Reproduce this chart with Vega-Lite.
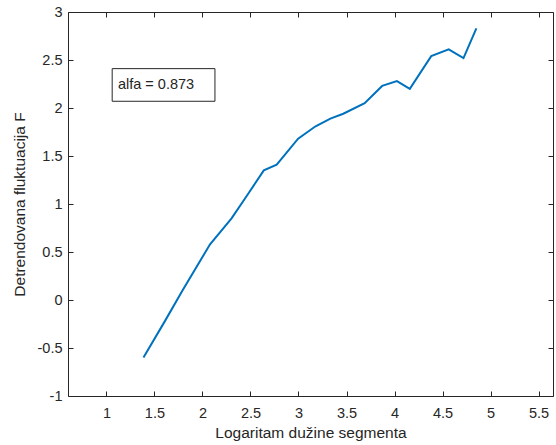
{
  "$schema": "https://vega.github.io/schema/vega-lite/v6.json",
  "autosize": "none",
  "width": 485,
  "height": 384,
  "padding": {"left": 68, "top": 12, "right": 3, "bottom": 49},
  "background": "white",
  "config": {
    "view": {"stroke": null},
    "font": "Liberation Sans",
    "axis": {
      "domainColor": "#262626",
      "tickColor": "#262626",
      "labelColor": "#262626",
      "titleColor": "#262626",
      "labelFont": "Liberation Sans",
      "titleFont": "Liberation Sans",
      "labelFontSize": 14.5,
      "titleFontSize": 15.5,
      "titleFontWeight": "normal",
      "grid": false,
      "tickSize": -5,
      "domainWidth": 1,
      "tickWidth": 1
    }
  },
  "resolve": {"scale": {"x": "independent", "y": "independent"}},
  "layer": [
    {
      "data": {
        "values": [
          {"logn": 1.386, "F": -0.6},
          {"logn": 1.609, "F": -0.22},
          {"logn": 1.792, "F": 0.1},
          {"logn": 2.079, "F": 0.58},
          {"logn": 2.303, "F": 0.85},
          {"logn": 2.485, "F": 1.12},
          {"logn": 2.639, "F": 1.35},
          {"logn": 2.773, "F": 1.41},
          {"logn": 2.996, "F": 1.68},
          {"logn": 3.178, "F": 1.81},
          {"logn": 3.332, "F": 1.89},
          {"logn": 3.466, "F": 1.94},
          {"logn": 3.689, "F": 2.05},
          {"logn": 3.871, "F": 2.23},
          {"logn": 4.025, "F": 2.28},
          {"logn": 4.159, "F": 2.2},
          {"logn": 4.382, "F": 2.54},
          {"logn": 4.564, "F": 2.61},
          {"logn": 4.718, "F": 2.52},
          {"logn": 4.852, "F": 2.83}
        ]
      },
      "mark": {"type": "line", "color": "#0072BD", "strokeWidth": 2},
      "encoding": {
        "x": {
          "field": "logn", "type": "quantitative",
          "scale": {"domain": [0.6, 5.65], "nice": false, "zero": false},
          "axis": {
            "title": "Logaritam dužine segmenta",
            "values": [1, 1.5, 2, 2.5, 3, 3.5, 4, 4.5, 5, 5.5],
            "labelExpr": "toString(datum.value)",
            "labelPadding": 15,
            "titlePadding": 6
          }
        },
        "y": {
          "field": "F", "type": "quantitative",
          "scale": {"domain": [-1, 3], "nice": false, "zero": false},
          "axis": {
            "title": "Detrendovana fluktuacija F",
            "values": [-1, -0.5, 0, 0.5, 1, 1.5, 2, 2.5, 3],
            "labelExpr": "toString(datum.value)",
            "labelPadding": 11,
            "titlePadding": 10
          }
        }
      }
    },
    {
      "data": {"values": [{"x1": 1.06, "x2": 2.13, "y1": 2.07, "y2": 2.41}]},
      "mark": {"type": "rect", "fill": "white", "stroke": "#262626", "strokeWidth": 1},
      "encoding": {
        "x": {
          "field": "x1", "type": "quantitative",
          "scale": {"domain": [0.6, 5.65], "nice": false, "zero": false},
          "axis": {
            "orient": "top", "title": null, "labels": false,
            "values": [1, 1.5, 2, 2.5, 3, 3.5, 4, 4.5, 5, 5.5]
          }
        },
        "x2": {"field": "x2"},
        "y": {
          "field": "y1", "type": "quantitative",
          "scale": {"domain": [-1, 3], "nice": false, "zero": false},
          "axis": {
            "orient": "right", "title": null, "labels": false,
            "values": [-1, -0.5, 0, 0.5, 1, 1.5, 2, 2.5, 3]
          }
        },
        "y2": {"field": "y2"}
      }
    },
    {
      "data": {"values": [{"x": 1.12, "y": 2.24, "label": "alfa = 0.873"}]},
      "mark": {"type": "text", "align": "left", "baseline": "middle", "fontSize": 14.5, "color": "#262626", "font": "Liberation Sans"},
      "encoding": {
        "x": {"field": "x", "type": "quantitative", "scale": {"domain": [0.6, 5.65], "nice": false, "zero": false}, "axis": null},
        "y": {"field": "y", "type": "quantitative", "scale": {"domain": [-1, 3], "nice": false, "zero": false}, "axis": null},
        "text": {"field": "label"}
      }
    }
  ]
}
